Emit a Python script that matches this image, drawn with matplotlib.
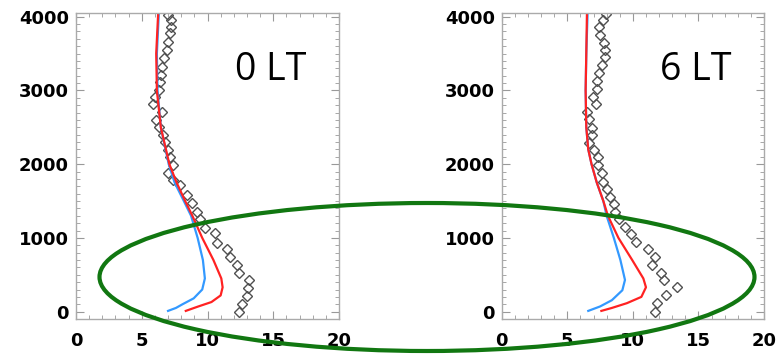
import matplotlib
matplotlib.use("Agg")
import matplotlib.pyplot as plt
from matplotlib.patches import Ellipse
from matplotlib.ticker import MultipleLocator

# observed profiles (diamonds): wind speed (m/s) vs height (m)
obs0_v = [7.0, 7.22, 7.22, 7.15, 7.0, 6.92, 6.69, 6.54, 6.46, 6.39, 6.31, 6.0, 5.86,
          6.54, 6.08, 6.31, 6.62, 6.77, 7.0, 7.15, 7.38, 7.0, 7.38, 7.91, 8.44, 8.82,
          9.2, 9.43, 9.81, 10.57, 10.72, 11.48, 11.71, 12.24, 12.4, 13.16, 13.08, 13.0,
          12.62, 12.4]
obs0_h = [4029, 3961, 3866, 3784, 3662, 3553, 3444, 3322, 3213, 3118, 3010, 2914, 2819,
          2711, 2602, 2507, 2398, 2303, 2194, 2099, 1990, 1882, 1787, 1719, 1583, 1474,
          1352, 1257, 1134, 1067, 931, 849, 740, 632, 523, 428, 319, 210, 102, 0]

obs6_v = [7.95, 7.74, 7.44, 7.49, 7.80, 7.87, 7.87, 7.62, 7.44, 7.24, 7.29, 6.98, 7.19,
          6.52, 6.68, 6.86, 6.86, 6.68, 7.03, 7.36, 7.36, 7.62, 7.74, 8.05, 8.25, 8.56,
          8.64, 8.96, 9.4, 9.83, 10.24, 11.17, 11.68, 11.43, 12.12, 12.37, 13.38, 12.52,
          11.81, 11.68]
obs6_h = [4042, 3961, 3866, 3757, 3649, 3553, 3458, 3349, 3240, 3132, 3023, 2914, 2819,
          2711, 2615, 2493, 2398, 2289, 2194, 2099, 1990, 1882, 1760, 1664, 1556, 1461,
          1352, 1257, 1148, 1053, 944, 849, 740, 632, 523, 428, 332, 224, 115, 0]

# model runs
blue0_v = [6.3, 6.15, 6.2, 6.45, 7.05, 7.5, 8.2, 8.75, 9.25, 9.65, 9.8, 9.6, 8.95, 8.1, 7.6, 7.0]
blue0_h = [4050, 3500, 3000, 2500, 2000, 1750, 1500, 1300, 1000, 700, 450, 300, 180, 100, 50, 10]
red0_v = [6.25, 6.1, 6.15, 6.45, 7.1, 7.65, 8.3, 8.85, 9.6, 10.45, 11.05, 11.15, 11.0, 10.3, 9.3, 8.35]
red0_h = [4050, 3500, 3000, 2500, 2000, 1750, 1500, 1300, 1000, 700, 450, 330, 220, 130, 70, 10]

blue6_v = [6.55, 6.45, 6.4, 6.45, 6.6, 6.85, 7.25, 7.75, 8.0, 8.55, 9.05, 9.4, 9.2, 8.4, 7.5, 6.6]
blue6_h = [4050, 3500, 3000, 2500, 2200, 2000, 1750, 1500, 1300, 1000, 700, 430, 290, 155, 70, 10]
red6_v = [6.5, 6.45, 6.4, 6.45, 6.6, 6.85, 7.25, 7.75, 8.1, 8.9, 9.95, 10.8, 11.0, 10.65, 9.55, 8.4, 7.6]
red6_h = [4050, 3500, 3000, 2500, 2200, 2000, 1750, 1500, 1300, 1000, 700, 450, 330, 200, 115, 50, 10]

panels = [
    ("0 LT", obs0_v, obs0_h, blue0_v, blue0_h, red0_v, red0_h, [76 / 776, 37 / 356, 263 / 776, 306 / 356]),
    ("6 LT", obs6_v, obs6_h, blue6_v, blue6_h, red6_v, red6_h, [501.7 / 776, 37 / 356, 262.3 / 776, 306 / 356]),
]

fig = plt.figure(figsize=(7.76, 3.56), dpi=100)

for label, ov, oh, bv, bh, rv, rh, rect in panels:
    ax = fig.add_axes(rect)
    ax.plot(ov, oh, linestyle="none", marker="D", markersize=5.5,
            markerfacecolor="none", markeredgecolor="#505050", markeredgewidth=1.0)
    ax.plot(bv, bh, color="#3399ff", lw=1.6)
    ax.plot(rv, rh, color="#ff2222", lw=1.6)

    ax.set_xlim(0, 20)
    ax.set_ylim(-100, 4050)
    ax.xaxis.set_major_locator(MultipleLocator(5))
    ax.xaxis.set_minor_locator(MultipleLocator(1))
    ax.yaxis.set_major_locator(MultipleLocator(1000))
    ax.yaxis.set_minor_locator(MultipleLocator(100))
    ax.tick_params(which="both", direction="in", top=True, right=True, color="#999999")
    ax.tick_params(which="major", length=6, width=0.8)
    ax.tick_params(which="minor", length=3, width=0.6)
    ax.tick_params(axis="x", pad=9)
    ax.tick_params(axis="y", pad=5)
    for t in ax.get_xticklabels() + ax.get_yticklabels():
        t.set_fontweight("bold")
        t.set_fontsize(13)
    for s in ax.spines.values():
        s.set_color("#aaaaaa")
        s.set_linewidth(1.0)

    ax.text(0.605, 0.781, label, transform=ax.transAxes, fontsize=27,
            family="Open Sans", va="baseline", ha="left")

# highlight of the boundary layer region
fig.patches.append(Ellipse((427 / 776, (356 - 277) / 356), 655 / 776, 148 / 356,
                           transform=fig.transFigure, fill=False,
                           edgecolor="#117711", linewidth=3))

fig.savefig("out.png", dpi=100)
